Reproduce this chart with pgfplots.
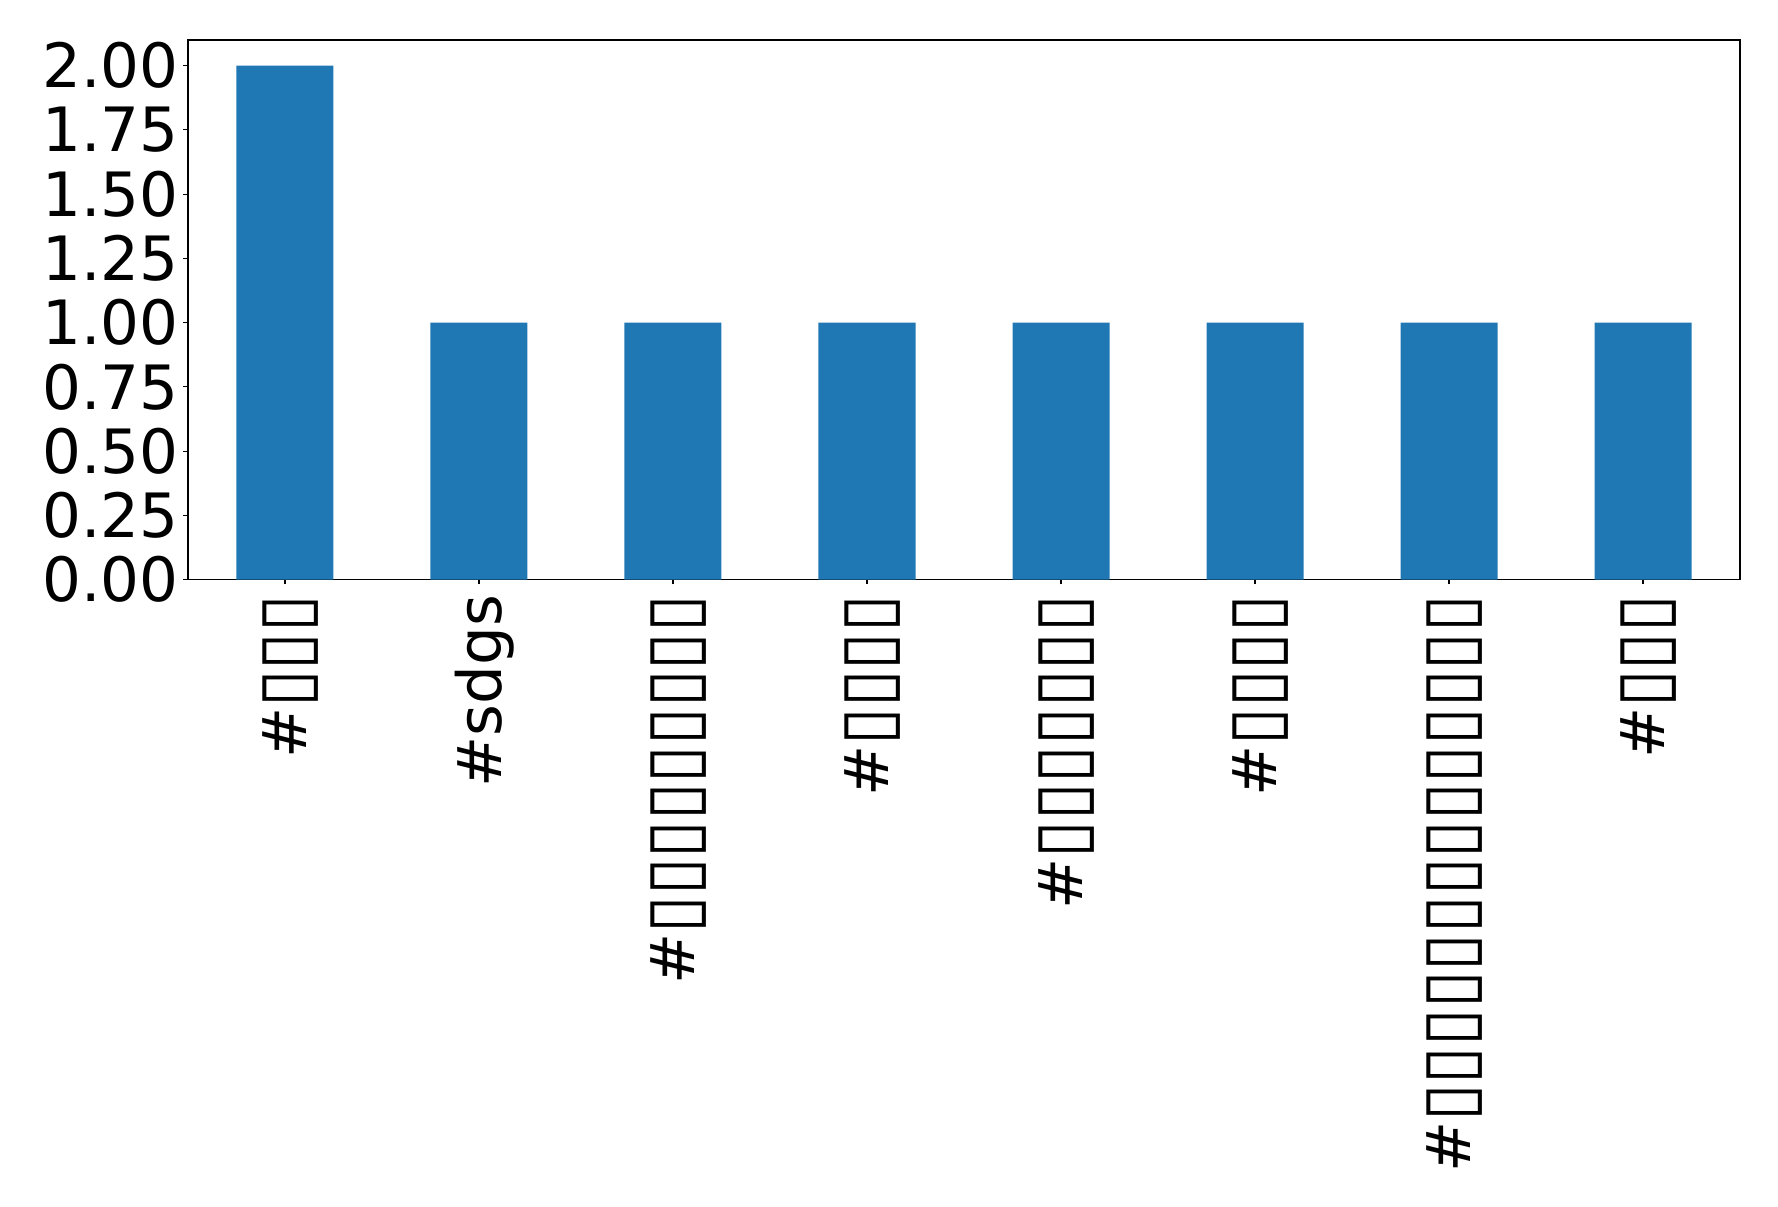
\documentclass[border=0pt]{standalone}
\usepackage{fontspec}
\setmainfont{DejaVu Sans}
\usepackage{pgfplots}
\pgfplotsset{compat=1.18}
\definecolor{mplblue}{RGB}{31,119,180}
\newcommand{\T}{\raisebox{-8.6pt}{\resizebox{27.1pt}{40pt}{\raisebox{\depth}{▯}}}}
\begin{document}
\begin{tikzpicture}
\begin{axis}[
  at={(0,0)}, anchor=south west,
  scale only axis, width=1117.44pt, height=388.44pt,
  xmin=-0.5, xmax=7.5, ymin=0, ymax=2.1,
  ytick={0,0.25,0.5,0.75,1,1.25,1.5,1.75,2},
  xtick={0,1,2,3,4,5,6,7},
  xticklabels={\#\T\T\T, \#sdgs, \#\T\T\T\T\T\T\T\T\T, \#\T\T\T\T, \#\T\T\T\T\T\T\T, \#\T\T\T\T, \#\T\T\T\T\T\T\T\T\T\T\T\T\T\T, \#\T\T\T},
  xticklabel style={xshift=4pt, rotate=90, anchor=east, font=\fontsize{44}{52}\selectfont},
  xticklabel shift=4pt,
  yticklabel style={font=\fontsize{44}{52}\selectfont},
  /pgf/number format/.cd, fixed, fixed zerofill, precision=2, assume math mode=true,
  /pgfplots/.cd,
  tick align=outside, tick pos=left, major tick length=3.5pt,
  axis line style={line width=0.8pt}, tick style={line width=0.8pt, black},
  ybar, bar width=0.5, bar shift=0pt,
]
\addplot[fill=mplblue, draw=none] coordinates {(0,2) (1,1) (2,1) (3,1) (4,1) (5,1) (6,1) (7,1)};
\end{axis}
\pgfresetboundingbox
\path[use as bounding box] (-135.36pt,-451.08pt) rectangle (1144.8pt,417.24pt);
\end{tikzpicture}
\end{document}
